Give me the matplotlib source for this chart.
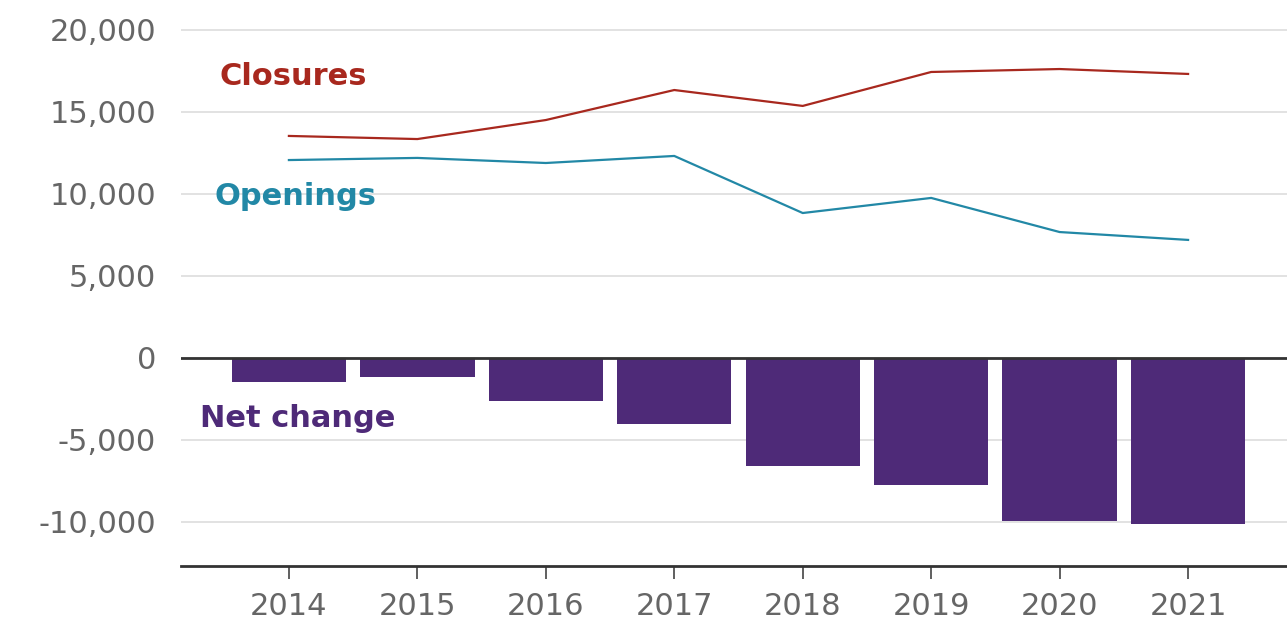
import matplotlib.pyplot as plt
from matplotlib.ticker import FuncFormatter

years = [2014, 2015, 2016, 2017, 2018, 2019, 2020, 2021]
closures = [13540, 13350, 14510, 16340, 15370, 17440, 17620, 17320]
openings = [12070, 12200, 11890, 12320, 8840, 9760, 7680, 7200]
net_change = [-1460, -1160, -2620, -4020, -6560, -7740, -9940, -10120]

red = '#a8281e'
teal = '#2288a6'
purple = '#4e2a78'
grey = '#666666'

plt.rcParams['font.family'] = ['DejaVu Sans']

fig = plt.figure(figsize=(12.87, 6.24), dpi=100)
ax = fig.add_axes([181 / 1287, 58 / 624, 1 - 181 / 1287, 566 / 624])

ax.bar(years, net_change, width=0.89, color=purple, zorder=2)
ax.plot(years, closures, color=red, lw=1.6, zorder=3)
ax.plot(years, openings, color=teal, lw=1.6, zorder=3)
ax.axhline(0, color='#333333', lw=2, zorder=4)

ax.set_xlim(2013.16, 2021.77)
ax.set_ylim(-12683, 21829)
ax.set_yticks([-10000, -5000, 0, 5000, 10000, 15000, 20000])
ax.yaxis.set_major_formatter(FuncFormatter(lambda v, p: f'{int(v):,}'))
ax.set_xticks(years)
ax.grid(axis='y', color='#dddddd', lw=1.2, zorder=0)
ax.set_axisbelow(True)

for s in ['top', 'right', 'left']:
    ax.spines[s].set_visible(False)
ax.spines['bottom'].set_color('#333333')
ax.spines['bottom'].set_linewidth(2)

ax.tick_params(axis='y', length=0, pad=18, labelsize=22, labelcolor=grey)
ax.tick_params(axis='x', length=9, width=1.2, color='#444444', pad=10,
               labelsize=22, labelcolor=grey)

ax.text(2013.46, 17134, 'Closures', color=red, fontsize=22, fontweight='bold',
        ha='left', va='center')
ax.text(2013.42, 9817, 'Openings', color=teal, fontsize=22, fontweight='bold',
        ha='left', va='center')
ax.text(2013.31, -3659, 'Net change', color=purple, fontsize=22, fontweight='bold',
        ha='left', va='center')

fig.savefig('out.png', dpi=100)
